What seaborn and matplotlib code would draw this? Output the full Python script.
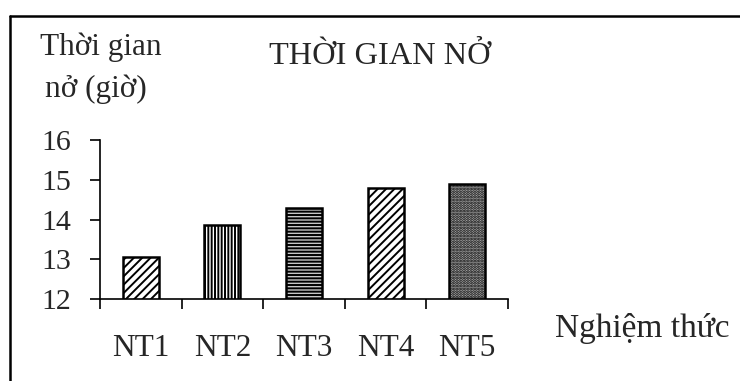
import matplotlib
matplotlib.use("Agg")
import matplotlib.pyplot as plt
from matplotlib.lines import Line2D
import seaborn as sns
import pandas as pd

# Treatment groups and their opening time (hours)
treatments = ["NT1", "NT2", "NT3", "NT4", "NT5"]
hours = [13.05, 13.85, 14.29, 14.79, 14.9]
y_ticks = [12, 13, 14, 15, 16]

hatches = ["////", "|||||", "-----", "////", "......"]
faces = ["white", "white", "#c8c8c8", "white", "#b0b0b0"]

sns.set_theme(style="white")
plt.rcParams["font.family"] = ["Liberation Serif", "DejaVu Serif"]
plt.rcParams["hatch.linewidth"] = 1.4

df = pd.DataFrame({"treatment": treatments, "hours": hours})

fig = plt.figure(figsize=(7.4, 3.81), dpi=100)
ax = fig.add_axes([100 / 740, 1 - 299 / 381, 408 / 740, 159 / 381])

sns.barplot(data=df, x="treatment", y="hours", ax=ax, width=0.44,
            color="white", edgecolor="black", linewidth=1.8)
for patch, h, fc in zip(ax.patches, hatches, faces):
    patch.set_hatch(h)
    patch.set_facecolor(fc)
    patch.set_edgecolor("black")

ax.set_ylim(12, 16)
ax.set_xlim(-0.5, len(treatments) - 0.5)
ax.set_yticks(y_ticks)
ax.set_yticklabels([str(t) for t in y_ticks])

# Category boundaries carry the tick marks, labels sit at bar centres
ax.set_xticks([i - 0.5 for i in range(len(treatments) + 1)])
ax.set_xticklabels([])
ax.set_xticks(range(len(treatments)), minor=True)
ax.set_xticklabels(treatments, minor=True)
ax.tick_params(axis="x", which="major", direction="out", length=7.5,
               width=1.2, color="black", bottom=True)
ax.tick_params(axis="x", which="minor", length=0, pad=25, labelsize=22.5)
ax.tick_params(axis="y", direction="out", length=7.5, width=1.2,
               color="black", left=True, pad=13, labelsize=21.5)

ax.set_xlabel("")
ax.set_ylabel("")
for side in ("top", "right"):
    ax.spines[side].set_visible(False)
for side in ("left", "bottom"):
    ax.spines[side].set_color("black")
    ax.spines[side].set_linewidth(1.2)
ax.set_facecolor("white")

fig.text(40 / 740, 1 - 55 / 381, "Thời gian", fontsize=22.5, va="baseline", ha="left")
fig.text(45 / 740, 1 - 97 / 381, "nở (giờ)", fontsize=22.5, va="baseline", ha="left")
fig.text(380 / 740, 1 - 64 / 381, "THỜI GIAN NỞ", fontsize=23.3, va="baseline", ha="center")
fig.text(555 / 740, 1 - 337 / 381, "Nghiệm thức", fontsize=24, va="baseline", ha="left")

# Outer frame (top and left edges)
fig.add_artist(Line2D([10 / 740, 1.0], [1 - 16 / 381, 1 - 16 / 381],
                      transform=fig.transFigure, color="black", lw=1.8))
fig.add_artist(Line2D([10 / 740, 10 / 740], [0.0, 1 - 16 / 381],
                      transform=fig.transFigure, color="black", lw=1.8))

fig.savefig("out.png", dpi=100, facecolor="white")
